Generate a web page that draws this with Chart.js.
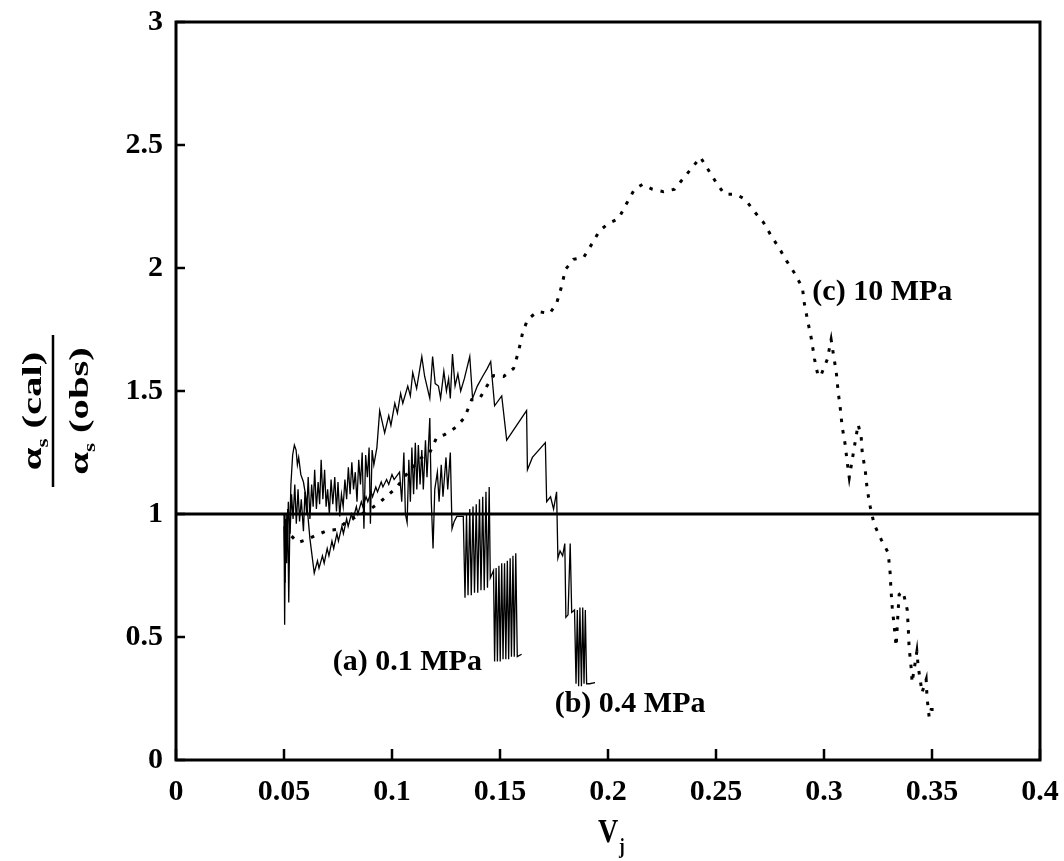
<!DOCTYPE html>
<html>
<head>
<meta charset="utf-8">
<script src="https://cdn.jsdelivr.net/npm/chart.js@4.4.1/dist/chart.umd.min.js"></script>
<style>
  html, body { margin: 0; padding: 0; background: #fff; }
  canvas { display: block; }
</style>
</head>
<body>
<canvas id="ratioChart" width="1064" height="861"></canvas>
<script>
// axis ticks
const xTickLabels = ['0', '0.05', '0.1', '0.15', '0.2', '0.25', '0.3', '0.35', '0.4'];
const yTickLabels = ['0', '0.5', '1', '1.5', '2', '2.5', '3'];

// (a) 0.1 MPa
const vjA = [
    0.0500, 0.0503, 0.0507, 0.0512, 0.0517, 0.0522, 0.0527, 0.0532, 0.0540, 0.0548,
    0.0556, 0.0562, 0.0568, 0.0578, 0.0590, 0.0605, 0.0620, 0.0640, 0.0655, 0.0662,
    0.0678, 0.0686, 0.0700, 0.0708, 0.0722, 0.0730, 0.0745, 0.0752, 0.0768, 0.0775,
    0.0790, 0.0797, 0.0812, 0.0820, 0.0835, 0.0842, 0.0858, 0.0865, 0.0880, 0.0888,
    0.0903, 0.0910, 0.0925, 0.0933, 0.0950, 0.0958, 0.0975, 0.0985, 0.1000, 0.1010,
    0.1035, 0.1045, 0.1055, 0.1062, 0.1070, 0.1078, 0.1085, 0.1092, 0.1100, 0.1108,
    0.1115, 0.1122, 0.1130, 0.1138, 0.1145, 0.1155, 0.1162, 0.1175, 0.1182, 0.1190,
    0.1198, 0.1210, 0.1218, 0.1228, 0.1236, 0.1250, 0.1258, 0.1270, 0.1278, 0.1288,
    0.1300, 0.1330, 0.1338, 0.1345, 0.1352, 0.1360, 0.1367, 0.1375, 0.1382, 0.1390,
    0.1397, 0.1405, 0.1412, 0.1420, 0.1427, 0.1435, 0.1442, 0.1450, 0.1455, 0.1470,
    0.1475, 0.1482, 0.1488, 0.1495, 0.1501, 0.1508, 0.1514, 0.1521, 0.1527, 0.1534,
    0.1540, 0.1547, 0.1553, 0.1560, 0.1566, 0.1573, 0.1580, 0.1600
];
const ratioA = [
    1.00, 0.55, 0.98, 0.80, 1.02, 0.64, 0.95, 1.12, 1.24, 1.28,
    1.26, 1.20, 1.23, 1.16, 1.13, 1.05, 0.90, 0.76, 0.81, 0.78,
    0.83, 0.80, 0.86, 0.83, 0.89, 0.86, 0.92, 0.89, 0.95, 0.92,
    0.98, 0.95, 1.00, 0.98, 1.03, 1.00, 1.05, 1.03, 1.07, 1.05,
    1.09, 1.07, 1.11, 1.09, 1.13, 1.11, 1.14, 1.12, 1.16, 1.14,
    1.17, 1.05, 1.25, 1.00, 0.965, 1.22, 1.05, 1.27, 1.08, 1.29,
    1.10, 1.28, 1.12, 1.26, 1.10, 1.30, 1.15, 1.39, 1.05, 0.86,
    1.10, 1.17, 1.05, 1.20, 1.07, 1.23, 1.10, 1.25, 0.94, 0.97,
    0.99, 0.99, 0.66, 1.00, 0.67, 1.02, 0.67, 1.03, 0.68, 1.04,
    0.68, 1.06, 0.69, 1.07, 0.69, 1.09, 0.70, 1.11, 0.74, 0.77,
    0.40, 0.78, 0.40, 0.79, 0.40, 0.80, 0.41, 0.80, 0.41, 0.81,
    0.41, 0.82, 0.42, 0.83, 0.42, 0.84, 0.42, 0.43
];

// (b) 0.4 MPa
const vjB = [
    0.0500, 0.0505, 0.0510, 0.0515, 0.0520, 0.0528, 0.0535, 0.0542, 0.0550, 0.0557,
    0.0565, 0.0572, 0.0580, 0.0590, 0.0597, 0.0605, 0.0612, 0.0620, 0.0628, 0.0635,
    0.0642, 0.0650, 0.0658, 0.0665, 0.0672, 0.0680, 0.0688, 0.0695, 0.0702, 0.0710,
    0.0718, 0.0726, 0.0735, 0.0743, 0.0750, 0.0758, 0.0766, 0.0774, 0.0782, 0.0790,
    0.0798, 0.0806, 0.0814, 0.0822, 0.0830, 0.0838, 0.0846, 0.0854, 0.0862, 0.0870,
    0.0878, 0.0886, 0.0894, 0.0900, 0.0908, 0.0916, 0.0930, 0.0943, 0.0966, 0.0985,
    0.0995, 0.1013, 0.1025, 0.1040, 0.1050, 0.1073, 0.1085, 0.1096, 0.1114, 0.1138,
    0.1151, 0.1175, 0.1188, 0.1200, 0.1215, 0.1225, 0.1240, 0.1252, 0.1262, 0.1270,
    0.1280, 0.1292, 0.1305, 0.1318, 0.1335, 0.1360, 0.1373, 0.1395, 0.1420, 0.1440,
    0.1457, 0.1475, 0.1508, 0.1531, 0.1623, 0.1627, 0.1650, 0.1710, 0.1716, 0.1734,
    0.1748, 0.1762, 0.1768, 0.1778, 0.1790, 0.1800, 0.1805, 0.1815, 0.1825, 0.1832,
    0.1845, 0.1852, 0.1858, 0.1864, 0.1870, 0.1877, 0.1883, 0.1889, 0.1895, 0.1901,
    0.1915, 0.1940
];
const ratioB = [
    0.95, 0.72, 1.00, 0.85, 1.05, 0.92, 1.08, 0.98, 1.12, 0.96,
    1.10, 0.97, 1.06, 0.93, 1.09, 1.00, 1.15, 0.98, 1.12, 1.03,
    1.18, 1.02, 1.13, 1.04, 1.22, 1.06, 1.18, 1.03, 1.10, 1.00,
    1.14, 1.04, 1.15, 1.01, 1.13, 0.99, 1.08, 1.03, 1.14, 1.06,
    1.19, 1.08, 1.21, 1.10, 1.17, 1.05, 1.22, 1.12, 1.25, 0.94,
    1.24, 1.15, 1.27, 0.96, 1.26, 1.20, 1.27, 1.42, 1.33, 1.40,
    1.36, 1.45, 1.41, 1.49, 1.45, 1.52, 1.48, 1.575, 1.51, 1.64,
    1.56, 1.47, 1.64, 1.53, 1.52, 1.47, 1.58, 1.50, 1.55, 1.47,
    1.65, 1.52, 1.57, 1.50, 1.55, 1.64, 1.47, 1.52, 1.56, 1.59,
    1.62, 1.44, 1.48, 1.30, 1.42, 1.18, 1.23, 1.29, 1.05, 1.07,
    1.02, 1.09, 0.82, 0.85, 0.83, 0.88, 0.58, 0.59, 0.88, 0.60,
    0.61, 0.31, 0.61, 0.30, 0.62, 0.30, 0.62, 0.31, 0.61, 0.31,
    0.31, 0.315
];

// (c) 10 MPa
const vjC = [
    0.0535, 0.0564, 0.0606, 0.0657, 0.0703, 0.0745, 0.0791, 0.0837, 0.0897, 0.0943,
    0.1022, 0.1059, 0.1096, 0.1138, 0.1175, 0.1207, 0.1244, 0.1295, 0.1336, 0.1369,
    0.1406, 0.1438, 0.1470, 0.1517, 0.1563, 0.1586, 0.1605, 0.1628, 0.1674, 0.1730,
    0.1762, 0.1785, 0.1803, 0.1840, 0.1887, 0.1924, 0.1961, 0.2002, 0.2049, 0.2086,
    0.2122, 0.2160, 0.2206, 0.2257, 0.2307, 0.2345, 0.2428, 0.2506, 0.2540, 0.2590,
    0.2635, 0.2677, 0.2720, 0.2756, 0.2793, 0.2826, 0.2863, 0.2900, 0.2910, 0.2928,
    0.2942, 0.2956, 0.2973, 0.2987, 0.3015, 0.3033, 0.3043, 0.3057, 0.3066, 0.3075,
    0.3084, 0.3098, 0.3107, 0.3117, 0.3131, 0.3144, 0.3158, 0.3172, 0.3177, 0.3191,
    0.3200, 0.3214, 0.3232, 0.3265, 0.3297, 0.3306, 0.3310, 0.3316, 0.3325, 0.3334,
    0.3343, 0.3348, 0.3366, 0.3385, 0.3390, 0.3394, 0.3403, 0.3408, 0.3430, 0.3436,
    0.3450, 0.3454, 0.3473, 0.3477, 0.3487, 0.3496, 0.3510
];
const ratioC = [
    0.91, 0.884, 0.896, 0.917, 0.933, 0.937, 0.97, 0.99, 1.018, 1.047,
    1.108, 1.153, 1.189, 1.23, 1.25, 1.311, 1.323, 1.352, 1.392, 1.465,
    1.47, 1.518, 1.563, 1.559, 1.592, 1.661, 1.738, 1.791, 1.823, 1.815,
    1.856, 1.925, 1.994, 2.035, 2.043, 2.096, 2.152, 2.181, 2.201, 2.262,
    2.319, 2.34, 2.32, 2.31, 2.32, 2.36, 2.45, 2.34, 2.30, 2.30,
    2.28, 2.23, 2.185, 2.13, 2.08, 2.03, 1.98, 1.92, 1.85, 1.77,
    1.71, 1.63, 1.559, 1.567, 1.628, 1.709, 1.652, 1.575, 1.494, 1.433,
    1.356, 1.283, 1.213, 1.148, 1.222, 1.291, 1.364, 1.315, 1.25, 1.177,
    1.10, 1.03, 0.958, 0.896, 0.843, 0.762, 0.693, 0.62, 0.543, 0.461,
    0.604, 0.673, 0.685, 0.612, 0.539, 0.457, 0.38, 0.315, 0.441, 0.38,
    0.299, 0.274, 0.327, 0.254, 0.173, 0.205, 0.205
];

// reference line at ratio = 1
const refX = [0, 0.4];
const refY = [1, 1];

function toPoints(xs, ys, name) {
    if (xs.length !== ys.length) throw new Error(name + ' length mismatch ' + xs.length + ' vs ' + ys.length);
    return xs.map((x, i) => ({ x: x, y: ys[i] }));
}

const serif = "'Liberation Serif', 'Times New Roman', serif";

// frame, inward ticks
const framePlugin = {
    id: 'frame',
    afterDatasetsDraw(chart) {
        const { ctx, chartArea: a, scales } = chart;
        ctx.save();
        ctx.strokeStyle = '#000';
        ctx.lineWidth = 2.5;
        scales.x.ticks.forEach(t => {
            const px = scales.x.getPixelForValue(t.value);
            ctx.beginPath();
            ctx.moveTo(px, a.bottom);
            ctx.lineTo(px, a.bottom - 11);
            ctx.stroke();
        });
        scales.y.ticks.forEach(t => {
            const py = scales.y.getPixelForValue(t.value);
            ctx.beginPath();
            ctx.moveTo(a.left, py);
            ctx.lineTo(a.left + 9, py);
            ctx.stroke();
        });
        ctx.lineWidth = 3;
        ctx.strokeRect(a.left, a.top, a.right - a.left, a.bottom - a.top);
        ctx.restore();
    }
};

// series labels and axis titles
const textPlugin = {
    id: 'texts',
    afterDraw(chart) {
        const { ctx, scales } = chart;
        const x = scales.x, y = scales.y;
        ctx.save();
        ctx.fillStyle = '#000';
        ctx.textBaseline = 'middle';
        ctx.textAlign = 'left';
        ctx.font = 'bold 30px ' + serif;
        ctx.fillText('(a) 0.1 MPa', x.getPixelForValue(0.0726), y.getPixelForValue(0.396));
        ctx.fillText('(b) 0.4 MPa', x.getPixelForValue(0.1753), y.getPixelForValue(0.226));
        ctx.fillText('(c) 10 MPa', x.getPixelForValue(0.2946), y.getPixelForValue(1.90));

        // x title: V with subscript j (a little stretched, like the source)
        ctx.save();
        ctx.textBaseline = 'alphabetic';
        ctx.translate(598, 842);
        ctx.scale(1, 1.2);
        ctx.font = 'bold 28px ' + serif;
        ctx.fillText('V', 0, 0);
        ctx.font = 'bold 17px ' + serif;
        ctx.fillText('j', 21, 9);
        ctx.restore();

        // y title: fraction, rotated and stretched along the text
        ctx.save();
        ctx.translate(53, 411);
        ctx.rotate(-Math.PI / 2);
        ctx.lineWidth = 2.5;
        ctx.beginPath();
        ctx.moveTo(-76, 0);
        ctx.lineTo(76, 0);
        ctx.stroke();
        ctx.scale(1.45, 1);
        ctx.textBaseline = 'alphabetic';
        const drawPart = (rest, base) => {
            ctx.font = 'bold 28px ' + serif;
            const wA = ctx.measureText('\u03b1').width;
            const wR = ctx.measureText(rest).width;
            ctx.font = 'bold 16px ' + serif;
            const wS = ctx.measureText('s').width;
            const sx = -(wA + wS + wR) / 2;
            ctx.font = 'bold 28px ' + serif;
            ctx.fillText('\u03b1', sx, base);
            ctx.font = 'bold 16px ' + serif;
            ctx.fillText('s', sx + wA, base + 7);
            ctx.font = 'bold 28px ' + serif;
            ctx.fillText(rest, sx + wA + wS, base);
        };
        drawPart(' (cal)', -12);
        drawPart(' (obs)', 35);
        ctx.restore();
        ctx.restore();
    }
};

// keep tick labels from pushing the plot area around
function noLabelPadding(scale) {
    scale.paddingTop = 0;
    scale.paddingBottom = 0;
    scale.paddingLeft = 0;
    scale.paddingRight = 0;
}

const ctx = document.getElementById('ratioChart').getContext('2d');
const ratioChart = new Chart(ctx, {
    type: 'scatter',
    data: {
        datasets: [
            {
                label: 'ref',
                data: toPoints(refX, refY, 'ref'),
                showLine: true,
                borderColor: '#000',
                borderWidth: 3,
                pointRadius: 0
            },
            {
                label: '(c) 10 MPa',
                data: toPoints(vjC, ratioC, 'c'),
                showLine: true,
                borderColor: '#000',
                borderWidth: 3,
                borderDash: [3.5, 8],
                pointRadius: 0
            },
            {
                label: '(a) 0.1 MPa',
                data: toPoints(vjA, ratioA, 'a'),
                showLine: true,
                borderColor: '#000',
                borderWidth: 1.3,
                pointRadius: 0
            },
            {
                label: '(b) 0.4 MPa',
                data: toPoints(vjB, ratioB, 'b'),
                showLine: true,
                borderColor: '#000',
                borderWidth: 1.3,
                pointRadius: 0
            }
        ]
    },
    options: {
        responsive: false,
        animation: false,
        devicePixelRatio: 1,
        layout: {
            autoPadding: false,
            padding: { left: 0, top: 22, right: 24, bottom: 0 }
        },
        plugins: {
            legend: { display: false },
            tooltip: { enabled: false }
        },
        scales: {
            x: {
                type: 'linear',
                min: 0,
                max: 0.4,
                grid: { display: false },
                border: { display: false },
                ticks: {
                    stepSize: 0.05,
                    color: '#000',
                    padding: 6,
                    maxRotation: 0,
                    font: { family: serif, size: 30, weight: 'bold' },
                    callback: (v) => xTickLabels[Math.round(v / 0.05)]
                },
                afterFit: (scale) => { scale.height = 101; noLabelPadding(scale); }
            },
            y: {
                type: 'linear',
                min: 0,
                max: 3,
                grid: { display: false },
                border: { display: false },
                ticks: {
                    stepSize: 0.5,
                    color: '#000',
                    padding: 5,
                    font: { family: serif, size: 30, weight: 'bold' },
                    callback: (v) => yTickLabels[Math.round(v / 0.5)]
                },
                afterFit: (scale) => { scale.width = 176; noLabelPadding(scale); }
            }
        }
    },
    plugins: [framePlugin, textPlugin]
});
</script>
</body>
</html>
